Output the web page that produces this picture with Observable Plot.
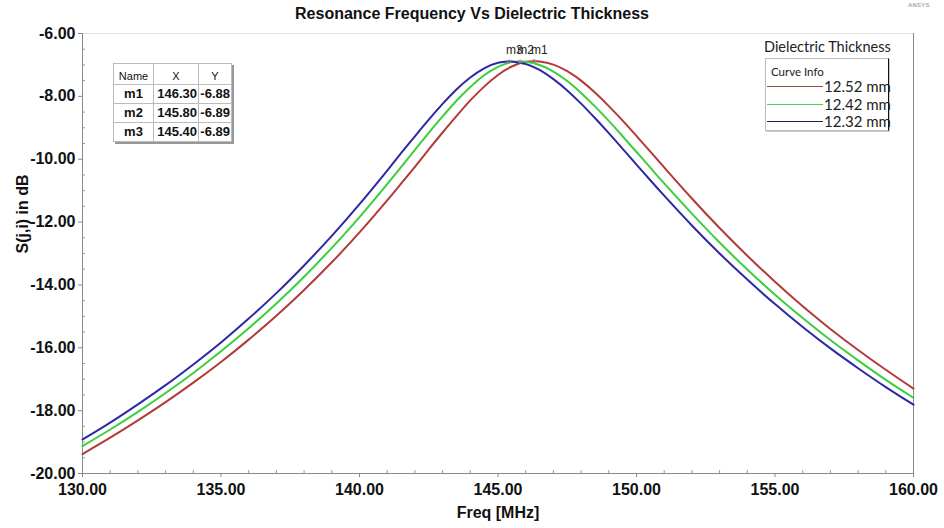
<!DOCTYPE html>
<html>
<head>
<meta charset="utf-8">
<script src="https://cdn.jsdelivr.net/npm/d3@7"></script>
<script src="https://cdn.jsdelivr.net/npm/@observablehq/plot@0.6"></script>
<style>
  body { margin: 0; background: white; }
  #wrap { position: relative; width: 944px; height: 528px; overflow: hidden; background: white; }
  #wrap svg { position: absolute; left: 0; top: 0; }
  .ov { position: absolute; white-space: nowrap; }
  #title { left: 0; width: 944px; top: 4px; text-align: center; font: bold 16px "Liberation Sans", Arial, sans-serif; color: #111; line-height: 20px; }
  #ansys { left: 908px; top: 2px; font: bold 6px "Liberation Sans", Arial, sans-serif; color: #aaa; letter-spacing: 0.2px; }
  #mtable { left: 113px; top: 63px; border-collapse: collapse; background: white; box-shadow: 2px 2px 0 #999; font-family: "Liberation Sans", Arial, sans-serif; }
  #mtable td { border: 1px solid #bbb; padding: 0 1px; height: 18px; line-height: 16px; color: #111; }
  #mtable tr.h td { font-size: 11px; font-weight: normal; text-align: center; height: 20px; vertical-align: bottom; }
  #mtable tr.r td { font-size: 13px; font-weight: bold; }
  #legtitle { left: 764px; top: 37px; font: 14.5px Lato, "Open Sans", sans-serif; color: #222; line-height: 20px; }
  #legbox { left: 765px; top: 58px; width: 122px; height: 71px; border: 1px solid #bbb; border-right: 1.5px solid #111; background: white; box-shadow: 1px 1px 0 #ccc; }
  #legbox .ci { position: absolute; left: 5px; top: 6px; font: 11.5px Lato, "Open Sans", sans-serif; color: #222; line-height: 13px; }
  #legbox .row { position: absolute; left: 1px; height: 16px; width: 120px; }
  #legbox .row span.l { position: absolute; left: 0; top: 8px; width: 56px; height: 0; border-top: 1px solid; }
  #legbox .row span.t { position: absolute; left: 57px; top: 0; font: 15px Lato, "Open Sans", sans-serif; color: #222; line-height: 16px; }
</style>
</head>
<body>
<div id="wrap"></div>
<script>
// ---- data ----
const freq = [130,131,132,133,134,135,136,137,138,139,140,141,141.5,142,142.5,143,143.5,144,144.5,145,145.5,146,146.5,147,147.5,148,148.5,149,149.5,150,150.5,151,152,153,154,155,156,157,158,159,160];
const red   = [-19.38,-18.86,-18.31,-17.73,-17.11,-16.45,-15.74,-14.98,-14.16,-13.28,-12.33,-11.31,-10.78,-10.24,-9.69,-9.15,-8.63,-8.13,-7.69,-7.32,-7.05,-6.90,-6.89,-6.99,-7.20,-7.50,-7.88,-8.31,-8.77,-9.26,-9.76,-10.26,-11.25,-12.19,-13.07,-13.90,-14.68,-15.40,-16.07,-16.70,-17.30];
const green = [-19.13,-18.60,-18.04,-17.44,-16.80,-16.11,-15.38,-14.59,-13.74,-12.82,-11.84,-10.79,-10.25,-9.70,-9.16,-8.64,-8.14,-7.70,-7.33,-7.06,-6.91,-6.90,-7.00,-7.21,-7.51,-7.89,-8.32,-8.78,-9.27,-9.77,-10.27,-10.77,-11.73,-12.65,-13.51,-14.31,-15.05,-15.75,-16.40,-17.02,-17.59];
const blue  = [-18.92,-18.38,-17.80,-17.19,-16.53,-15.83,-15.07,-14.26,-13.38,-12.44,-11.43,-10.36,-9.81,-9.27,-8.74,-8.24,-7.78,-7.40,-7.11,-6.93,-6.89,-6.97,-7.16,-7.45,-7.81,-8.23,-8.69,-9.17,-9.67,-10.17,-10.67,-11.16,-12.11,-13.00,-13.83,-14.61,-15.34,-16.02,-16.65,-17.25,-17.81];
const seriesNames = ["12.52 mm", "12.42 mm", "12.32 mm"];
const seriesColors = ["#b23a3a", "#3ccf3c", "#2a2aa6"];
const legendLineColors = ["#a04848", "#55cc55", "#222244"];
const markerNames = ["m1", "m2", "m3"];
const markerX = [146.30, 145.80, 145.40];
const markerY = [-6.88, -6.89, -6.89];
const xTicks = [130, 135, 140, 145, 150, 155, 160];
const yTicks = [-20, -18, -16, -14, -12, -10, -8, -6];
const chartTitle = "Resonance Frequency Vs Dielectric Thickness";
const xLabel = "Freq [MHz]";
const yLabel = "S(j,i) in dB";
const legendTitle = "Dielectric Thickness";
const legendSub = "Curve Info";

// ---- build table ----
const seriesValues = [red, green, blue];
const rows = [];
seriesValues.forEach((vals, si) => {
  const pts = freq.map((f, i) => ({f, v: vals[i], s: seriesNames[si]}));
  pts.push({f: markerX[si], v: markerY[si], s: seriesNames[si]});
  pts.sort((a, b) => a.f - b.f);
  rows.push(...pts);
});
const markers = markerNames.map((n, i) => ({n, f: markerX[i], v: markerY[i]}));
const xMinor = d3.range(130, 160.001, 1).filter(v => !xTicks.includes(v));
const yMinor = d3.range(-20, -5.999, 0.5).filter(v => !yTicks.includes(v));
const fmt = d => d.toFixed(2);

const chart = Plot.plot({
  width: 944,
  height: 528,
  marginLeft: 82,
  marginRight: 31,
  marginTop: 33,
  marginBottom: 55,
  style: {fontFamily: "'Liberation Sans', Arial, sans-serif", background: "white", color: "#111"},
  x: {domain: [130, 160], axis: null},
  y: {domain: [-20, -6], axis: null},
  color: {domain: seriesNames, range: seriesColors},
  marks: [
    Plot.ruleY([-6], {stroke: "#e2e2e2"}),
    Plot.ruleX([160], {stroke: "#8a8a8a"}),
    Plot.ruleX([130], {stroke: "#8a8a8a"}),
    Plot.ruleY([-20], {stroke: "#8a8a8a"}),
    Plot.axisY({ticks: yMinor, tickSize: 3, dx: 3, tickFormat: () => "", label: null, stroke: "#999"}),
    Plot.axisX({ticks: xMinor, tickSize: 3, dy: -3, tickFormat: () => "", label: null, stroke: "#999"}),
    Plot.axisY({ticks: yTicks, tickSize: 4, tickPadding: 3, tickFormat: fmt, label: null, fontSize: 16, fontWeight: "bold", stroke: "#888", fill: "#111"}),
    Plot.axisX({ticks: xTicks, tickSize: 4, tickPadding: 6, tickFormat: fmt, label: null, fontSize: 16, fontWeight: "bold", stroke: "#888", fill: "#111"}),
    Plot.text([yLabel], {frameAnchor: "left", dx: -60, rotate: -90, fontSize: 16, fontWeight: "bold", fill: "#111"}),
    Plot.text([xLabel], {frameAnchor: "bottom", dy: 44, fontSize: 16, fontWeight: "bold", fill: "#111"}),
    Plot.line(rows, {x: "f", y: "v", z: "s", stroke: "s", strokeWidth: 2, curve: "natural"}),
    Plot.dot(markers, {x: "f", y: "v", symbol: "square", r: 1.6, stroke: "#999", strokeWidth: 0.8, fill: "none"}),
    Plot.text(markers, {x: "f", y: "v", text: "n", dx: -3, dy: -11, textAnchor: "start", fontSize: 12, fill: "#222"})
  ]
});

const wrap = document.getElementById("wrap");
wrap.appendChild(chart);

function addDiv(id, text) {
  const d = document.createElement("div");
  d.className = "ov"; d.id = id;
  if (text != null) d.textContent = text;
  wrap.appendChild(d);
  return d;
}
addDiv("title", chartTitle);
addDiv("ansys", "ANSYS");

// marker table
const tbl = document.createElement("table");
tbl.className = "ov"; tbl.id = "mtable";
const hr = document.createElement("tr"); hr.className = "h";
[["Name", 37], ["X", 42], ["Y", 30]].forEach(([t, w]) => {
  const td = document.createElement("td"); td.textContent = t; td.style.width = w + "px"; hr.appendChild(td);
});
tbl.appendChild(hr);
markers.forEach(m => {
  const tr = document.createElement("tr"); tr.className = "r";
  [[m.n, "center"], [fmt(m.f), "right"], [fmt(m.v), "right"]].forEach(([t, a]) => {
    const td = document.createElement("td"); td.textContent = t; td.style.textAlign = a; tr.appendChild(td);
  });
  tbl.appendChild(tr);
});
wrap.appendChild(tbl);

// legend
addDiv("legtitle", legendTitle);
const box = addDiv("legbox", null);
const ci = document.createElement("div"); ci.className = "ci"; ci.textContent = legendSub; box.appendChild(ci);
seriesNames.forEach((n, i) => {
  const r = document.createElement("div"); r.className = "row"; r.style.top = (19 + i * 17.5) + "px";
  const l = document.createElement("span"); l.className = "l"; l.style.borderTopColor = legendLineColors[i];
  const t = document.createElement("span"); t.className = "t"; t.textContent = n;
  r.appendChild(l); r.appendChild(t); box.appendChild(r);
});
</script>
</body>
</html>
